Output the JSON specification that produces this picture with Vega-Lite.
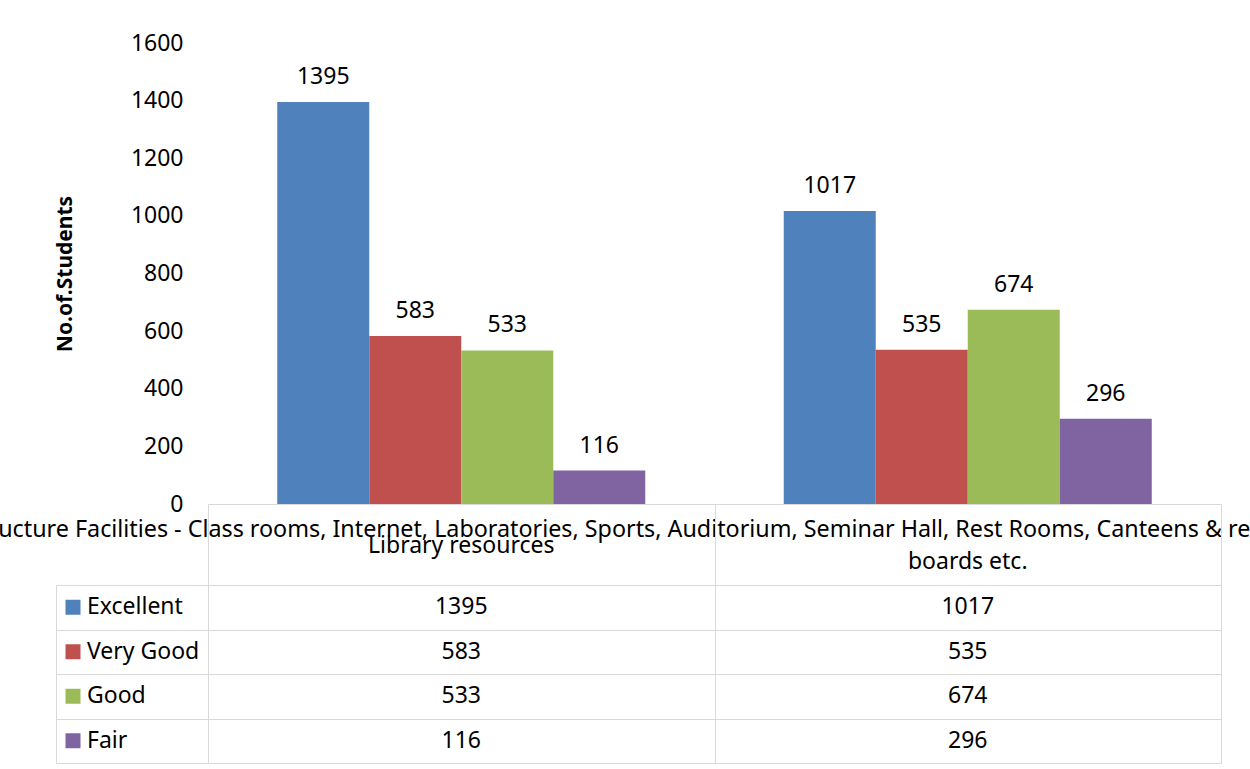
{
  "$schema": "https://vega.github.io/schema/vega-lite/v6.json",
  "autosize": {"type": "none"},
  "padding": {"left": 56, "top": 43, "right": 1194, "bottom": 726},
  "background": "white",
  "config": {
    "view": {"stroke": null},
    "font": "Noto Sans",
    "axis": {"labelFont": "Noto Sans", "titleFont": "Noto Sans"},
    "text": {"font": "Noto Sans"}
  },
  "datasets": {
    "ratings": [
      {"facility": "Library resources", "rating": "Excellent", "students": 1395},
      {"facility": "Library resources", "rating": "Very Good", "students": 583},
      {"facility": "Library resources", "rating": "Good", "students": 533},
      {"facility": "Library resources", "rating": "Fair", "students": 116},
      {"facility": "boards etc.", "rating": "Excellent", "students": 1017},
      {"facility": "boards etc.", "rating": "Very Good", "students": 535},
      {"facility": "boards etc.", "rating": "Good", "students": 674},
      {"facility": "boards etc.", "rating": "Fair", "students": 296}
    ],
    "levels": [
      {"rating": "Excellent"},
      {"rating": "Very Good"},
      {"rating": "Good"},
      {"rating": "Fair"}
    ]
  },
  "columns": 2,
  "bounds": "flush",
  "spacing": {"row": 81, "column": 0},
  "resolve": {"scale": {"x": "independent", "y": "independent"}},
  "concat": [
    {
      "width": 152,
      "height": 461,
      "data": {"values": []},
      "mark": {"type": "point", "opacity": 0},
      "encoding": {}
    },
    {
      "width": 1013,
      "height": 461,
      "data": {"name": "ratings"},
      "encoding": {
        "x": {
          "field": "facility",
          "type": "nominal",
          "sort": ["Library resources", "boards etc."],
          "scale": {"paddingInner": 0.2734, "paddingOuter": 0.1367},
          "axis": {
            "title": "Infrastructure Facilities - Class rooms, Internet, Laboratories, Sports, Auditorium, Seminar Hall, Rest Rooms, Canteens & re",
            "titleFontSize": 23.3,
            "titleFontWeight": "normal",
            "titleColor": "#000000",
            "titleX": -292,
            "titleY": 32,
            "titleAlign": "left",
            "titleBaseline": "alphabetic",
            "titleLimit": 3000,
            "labelFontSize": 23,
            "labelColor": "#000000",
            "labelAngle": 0,
            "labelLimit": 600,
            "labelOverlap": false,
            "labelBaseline": "alphabetic",
            "labelPadding": {"condition": {"test": "datum.value === 'boards etc.'", "value": 64}, "value": 48},
            "ticks": false,
            "domainColor": "#d9d9d9",
            "grid": false
          }
        },
        "xOffset": {
          "field": "rating",
          "type": "nominal",
          "sort": ["Excellent", "Very Good", "Good", "Fair"],
          "scale": {"paddingInner": 0, "paddingOuter": 0}
        },
        "y": {
          "field": "students",
          "type": "quantitative",
          "scale": {"domain": [0, 1600], "nice": false},
          "axis": {
            "title": "No.of.Students",
            "titleFontSize": 21,
            "titleFontWeight": "bold",
            "titleColor": "#000000",
            "titlePadding": 55,
            "values": [0, 200, 400, 600, 800, 1000, 1200, 1400, 1600],
            "format": "d",
            "labelFontSize": 23,
            "labelColor": "#000000",
            "labelPadding": 25,
            "ticks": false,
            "domain": false,
            "grid": false
          }
        }
      },
      "layer": [
        {
          "mark": {"type": "bar"},
          "encoding": {
            "color": {
              "field": "rating",
              "type": "nominal",
              "scale": {"domain": ["Excellent", "Very Good", "Good", "Fair"], "range": ["#4F81BD", "#C0504D", "#9BBB59", "#8064A2"]},
              "legend": null
            }
          }
        },
        {
          "mark": {"type": "text", "baseline": "alphabetic", "dy": -18, "fontSize": 23, "color": "#000000"},
          "encoding": {"text": {"field": "students", "type": "quantitative"}}
        }
      ]
    },
    {
      "width": 152,
      "height": 178,
      "view": {"stroke": "#d9d9d9"},
      "data": {"name": "levels"},
      "encoding": {
        "y": {
          "field": "rating",
          "type": "nominal",
          "sort": ["Excellent", "Very Good", "Good", "Fair"],
          "scale": {"paddingInner": 0, "paddingOuter": 0},
          "axis": {"labels": false, "ticks": false, "domain": false, "title": null, "grid": true, "tickBand": "extent", "gridColor": "#d9d9d9"}
        }
      },
      "layer": [
        {
          "mark": {"type": "square", "size": 225, "opacity": 1, "xOffset": -59},
          "encoding": {
            "color": {
              "field": "rating",
              "type": "nominal",
              "scale": {"domain": ["Excellent", "Very Good", "Good", "Fair"], "range": ["#4F81BD", "#C0504D", "#9BBB59", "#8064A2"]},
              "legend": null
            }
          }
        },
        {
          "mark": {"type": "text", "align": "left", "dx": -45, "fontSize": 23, "color": "#000000"},
          "encoding": {"text": {"field": "rating", "type": "nominal"}}
        }
      ]
    },
    {
      "width": 1013,
      "height": 178,
      "view": {"stroke": "#d9d9d9"},
      "data": {"name": "ratings"},
      "mark": {"type": "text", "fontSize": 23, "color": "#000000"},
      "encoding": {
        "x": {
          "field": "facility",
          "type": "nominal",
          "sort": ["Library resources", "boards etc."],
          "scale": {"paddingInner": 0, "paddingOuter": 0},
          "axis": {"orient": "top", "labels": false, "title": null, "domain": false, "ticks": true, "tickBand": "extent", "tickSize": 81, "tickColor": "#d9d9d9", "grid": true, "gridColor": "#d9d9d9"}
        },
        "y": {
          "field": "rating",
          "type": "nominal",
          "sort": ["Excellent", "Very Good", "Good", "Fair"],
          "scale": {"paddingInner": 0, "paddingOuter": 0},
          "axis": {"labels": false, "ticks": false, "domain": false, "title": null, "grid": true, "tickBand": "extent", "gridColor": "#d9d9d9"}
        },
        "text": {"field": "students", "type": "quantitative"}
      }
    }
  ]
}
